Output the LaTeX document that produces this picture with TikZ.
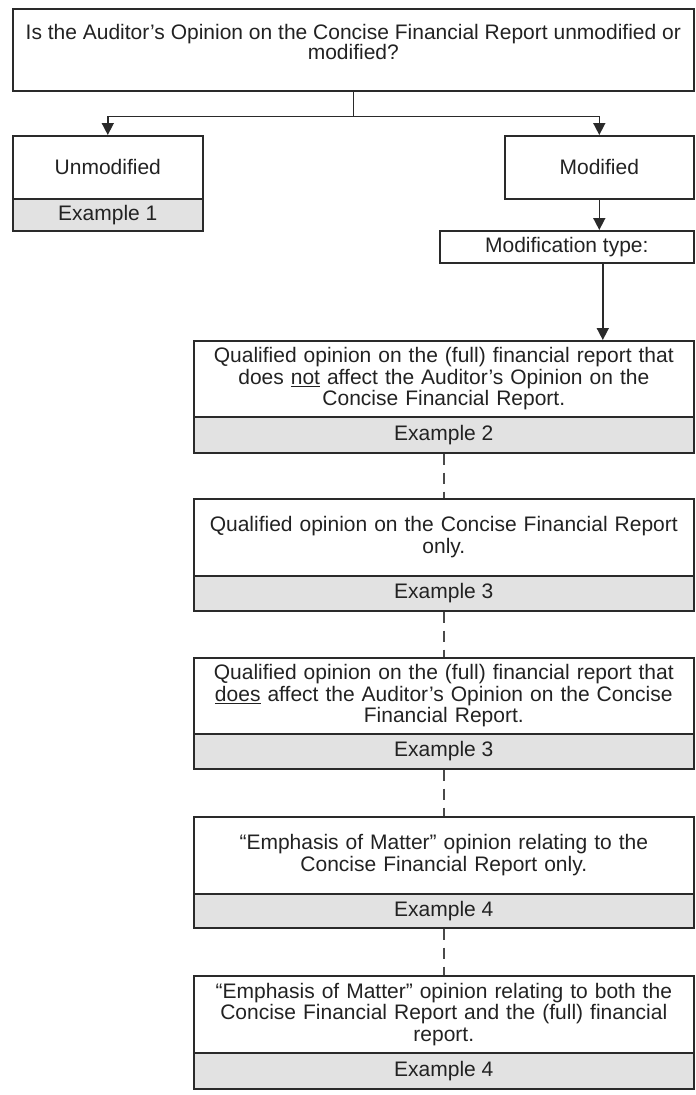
\documentclass[tikz,border=0pt]{standalone}
\usepackage{fontspec}
\setmainfont{Liberation Sans}
\usetikzlibrary{arrows.meta,calc}
\definecolor{edge}{HTML}{2A2A2A}
\definecolor{exfill}{HTML}{E2E2E2}
\definecolor{txt}{HTML}{222222}
\tikzset{
  box/.style={draw=edge, line width=1.6pt, rectangle, anchor=north west, inner sep=1pt,
    align=center, text=txt, font=\fontsize{21}{21.5}\selectfont},
  exbox/.style={box, fill=exfill},
  label text/.style={inner sep=0pt, align=center, text=txt, font=\fontsize{21}{19}\selectfont},
  arr/.style={draw=edge, line width=1.6pt, -{Triangle[width=12pt,length=12pt]}},
  plain/.style={draw=edge, line width=1.6pt},
  dashline/.style={draw=edge!85, line width=1.8pt, dash pattern=on 11pt off 8pt}
}
\begin{document}
\begin{tikzpicture}[x=1pt,y=-1pt]
\useasboundingbox (0,0) rectangle (696,1095);
% top question
\node[box, minimum width=681pt, minimum height=82pt] (q) at (12,8) {};
\node[label text] (qtext) at ([yshift=8pt]q.center)
  {Is the Auditor’s Opinion on the Concise Financial Report unmodified or\\modified?};
% unmodified
\node[box, minimum width=190pt, minimum height=63pt] (unmod) at (12,135) {Unmodified};
\node[exbox, minimum width=190pt, minimum height=32pt] (unmodex) at (12,198) {Example 1};
% modified
\node[box, minimum width=189pt, minimum height=63pt] (mod) at (504,135) {Modified};
\node[box, minimum width=254pt, minimum height=32pt] (modtype) at (439,230) {Modification type:};
% options
\node[box, minimum width=500pt, minimum height=76pt, text width=496pt] (b2) at (193,340)
  {Qualified opinion on the (full) financial report that\\does \underline{not} affect the Auditor’s Opinion on the\\Concise Financial Report.};
\node[exbox, minimum width=500pt, minimum height=36pt] (b2ex) at (193,416) {Example 2};
\node[box, minimum width=500pt, minimum height=77pt, text width=496pt] (b3) at (193,498)
  {Qualified opinion on the Concise Financial Report\\only.};
\node[exbox, minimum width=500pt, minimum height=35pt] (b3ex) at (193,575) {Example 3};
\node[box, minimum width=500pt, minimum height=76pt, text width=496pt] (b4) at (193,657)
  {Qualified opinion on the (full) financial report that\\\underline{does} affect the Auditor’s Opinion on the Concise\\Financial Report.};
\node[exbox, minimum width=500pt, minimum height=35pt] (b4ex) at (193,733) {Example 3};
\node[box, minimum width=500pt, minimum height=77pt, text width=496pt] (b5) at (193,816)
  {“Emphasis of Matter” opinion relating to the\\Concise Financial Report only.};
\node[exbox, minimum width=500pt, minimum height=34pt] (b5ex) at (193,893) {Example 4};
\node[box, minimum width=500pt, minimum height=77pt, text width=496pt] (b6) at (193,975)
  {“Emphasis of Matter” opinion relating to both the\\Concise Financial Report and the (full) financial\\report.};
\node[exbox, minimum width=500pt, minimum height=36pt] (b6ex) at (193,1052) {Example 4};
% connectors
\draw[plain] (q.south) -- ++(0,25) coordinate (j);
\draw[arr] (j) -| (unmod.north);
\draw[arr] (j) -| (mod.north);
\draw[arr] (mod.south) -- (mod.south |- modtype.north);
\draw[arr] ([xshift=36pt]modtype.south) -- ([xshift=36pt]modtype.south |- b2.north);
\draw[dashline] (b2ex.south) -- (b3.north);
\draw[dashline] (b3ex.south) -- (b4.north);
\draw[dashline] (b4ex.south) -- (b5.north);
\draw[dashline] (b5ex.south) -- (b6.north);
\end{tikzpicture}
\end{document}
